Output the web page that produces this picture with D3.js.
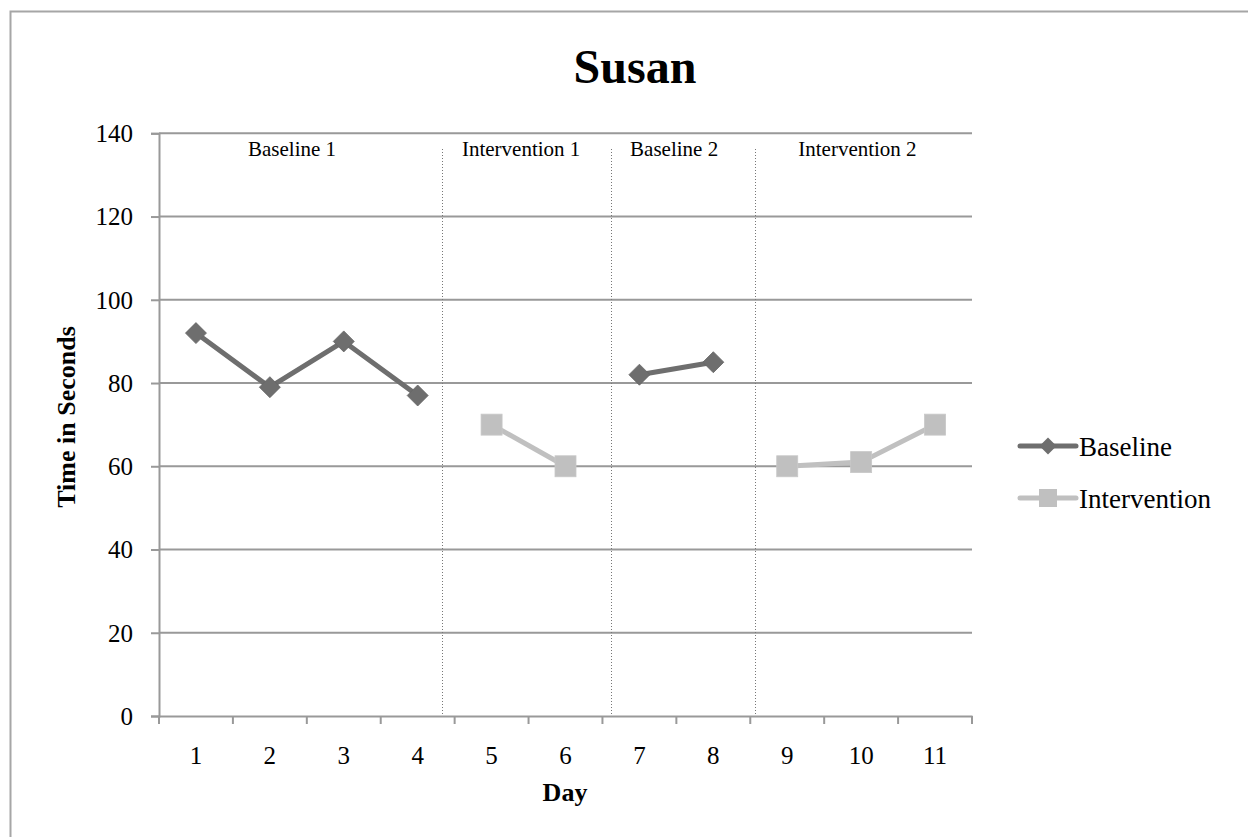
<!DOCTYPE html>
<html>
<head>
<meta charset="utf-8">
<script src="https://cdn.jsdelivr.net/npm/d3@7"></script>
<style>
html,body{margin:0;padding:0;background:#fff;}
svg{display:block;}
</style>
</head>
<body>
<svg id="chart" width="1248" height="837"></svg>
<script>
// ---- data ----
const days = [1,2,3,4,5,6,7,8,9,10,11];
const baselineA = [{day:1,v:92},{day:2,v:79},{day:3,v:90},{day:4,v:77}];
const baselineB = [{day:7,v:82},{day:8,v:85}];
const interventionA = [{day:5,v:70},{day:6,v:60}];
const interventionB = [{day:9,v:60},{day:10,v:61},{day:11,v:70}];
const yTicks = [0,20,40,60,80,100,120,140];
const phaseLines = [4.33, 6.61, 8.56];
const phaseLabels = [
  {text:"Baseline 1", pos:2.30},
  {text:"Intervention 1", pos:5.40},
  {text:"Baseline 2", pos:7.47},
  {text:"Intervention 2", pos:9.95}
];
const seriesNames = ["Baseline","Intervention"];
const titleText = "Susan";
const xTitle = "Day";
const yTitle = "Time in Seconds";

// ---- layout ----
const svg = d3.select("#chart");
const L = 159, R = 972, T = 133.3, B = 716;
const gridColor = "#999";
const cBase = "#6e6e6e", cInt = "#c0c0c0";
const serif = "'Liberation Serif','Times New Roman',serif";

// frame
svg.append("rect").attr("x",10.5).attr("y",11.5).attr("width",1300).attr("height",1000)
  .attr("fill","none").attr("stroke","#a6a6a6").attr("stroke-width",2);

const x = d3.scaleBand().domain(days).range([L,R]).padding(0);
const xc = d => x(d) + x.bandwidth()/2;
// continuous day position for phase lines
const xLin = d3.scaleLinear().domain([0.5, 11.5]).range([L,R]);
const y = d3.scaleLinear().domain([0,140]).range([B,T]);

// gridlines
svg.append("g").selectAll("line").data(yTicks.filter(t=>t>0)).join("line")
  .attr("x1",L).attr("x2",R).attr("y1",d=>y(d)).attr("y2",d=>y(d))
  .attr("stroke",gridColor).attr("stroke-width",2);

// y axis
const yAxis = svg.append("g").attr("transform",`translate(${L},0)`)
  .call(d3.axisLeft(y).tickValues(yTicks).tickSize(8).tickPadding(18));
yAxis.select(".domain").attr("stroke",gridColor).attr("stroke-width",2);
yAxis.selectAll(".tick line").attr("stroke",gridColor).attr("stroke-width",2);
yAxis.selectAll("text").attr("font-family",serif).attr("font-size",25).attr("fill","#000")
  .attr("dy","0.33em");

// x axis
const xAxis = svg.append("g").attr("transform",`translate(0,${B})`)
  .call(d3.axisBottom(x).tickSize(0).tickPadding(30));
xAxis.select(".domain").attr("stroke",gridColor).attr("stroke-width",2);
xAxis.selectAll("text").attr("font-family",serif).attr("font-size",25).attr("fill","#000");
// band boundary ticks
const bounds = days.map(d=>x(d)).concat([R]);
svg.append("g").selectAll("line").data(bounds).join("line")
  .attr("x1",d=>d).attr("x2",d=>d).attr("y1",B).attr("y2",B+8)
  .attr("stroke",gridColor).attr("stroke-width",2);

// phase lines
svg.append("g").selectAll("line").data(phaseLines).join("line")
  .attr("x1",d=>Math.round(xLin(d))+0.5).attr("x2",d=>Math.round(xLin(d))+0.5)
  .attr("y1",149).attr("y2",B-1)
  .attr("stroke","#777").attr("stroke-width",1).attr("stroke-dasharray","1,2");

// phase labels
svg.append("g").selectAll("text").data(phaseLabels).join("text")
  .attr("x",d=>xLin(d.pos)).attr("y",156).attr("text-anchor","middle")
  .attr("font-family",serif).attr("font-size",21).attr("fill","#000")
  .text(d=>d.text);

// lines
const line = d3.line().x(d=>xc(d.day)).y(d=>y(d.v));
[[baselineA,cBase],[baselineB,cBase],[interventionA,cInt],[interventionB,cInt]].forEach(([data,c])=>{
  svg.append("path").datum(data).attr("d",line).attr("fill","none")
    .attr("stroke",c).attr("stroke-width",5).attr("stroke-linejoin","round");
});

// markers
const diamond = (s) => `M0,${-s}L${s},0L0,${s}L${-s},0Z`;
svg.append("g").selectAll("path").data(baselineA.concat(baselineB)).join("path")
  .attr("transform",d=>`translate(${xc(d.day)},${y(d.v)})`)
  .attr("d",diamond(10.5)).attr("fill",cBase).attr("stroke","#666").attr("stroke-width",0.8);
svg.append("g").selectAll("rect").data(interventionA.concat(interventionB)).join("rect")
  .attr("x",d=>xc(d.day)-10.5).attr("y",d=>y(d.v)-10.5).attr("width",21).attr("height",21)
  .attr("fill",cInt).attr("stroke","#c8c8c8").attr("stroke-width",0.8);

// title
svg.append("text").attr("x",635).attr("y",83).attr("text-anchor","middle")
  .attr("font-family",serif).attr("font-weight","bold").attr("font-size",48).attr("fill","#000")
  .text(titleText);

// axis titles
svg.append("text").attr("x",565).attr("y",801).attr("text-anchor","middle")
  .attr("font-family",serif).attr("font-weight","bold").attr("font-size",26).attr("fill","#000")
  .text(xTitle);
svg.append("text").attr("transform","translate(75,417) rotate(-90)").attr("text-anchor","middle")
  .attr("font-family",serif).attr("font-weight","bold").attr("font-size",26).attr("fill","#000")
  .text(yTitle);

// legend
const legY = [446, 498];
const leg = svg.append("g");
seriesNames.forEach((name,i)=>{
  const c = i===0 ? cBase : cInt;
  leg.append("line").attr("x1",1020).attr("x2",1076).attr("y1",legY[i]).attr("y2",legY[i])
    .attr("stroke",c).attr("stroke-width",5).attr("stroke-linecap","round");
  if(i===0){
    leg.append("path").attr("transform",`translate(1048,${legY[i]})`).attr("d",diamond(8.5)).attr("fill",c);
  } else {
    leg.append("rect").attr("x",1039).attr("y",legY[i]-9).attr("width",18).attr("height",18).attr("fill",c);
  }
  leg.append("text").attr("x",1079).attr("y",legY[i]+10).attr("font-family",serif)
    .attr("font-size",27).attr("fill","#000").text(name);
});
</script>
</body>
</html>
